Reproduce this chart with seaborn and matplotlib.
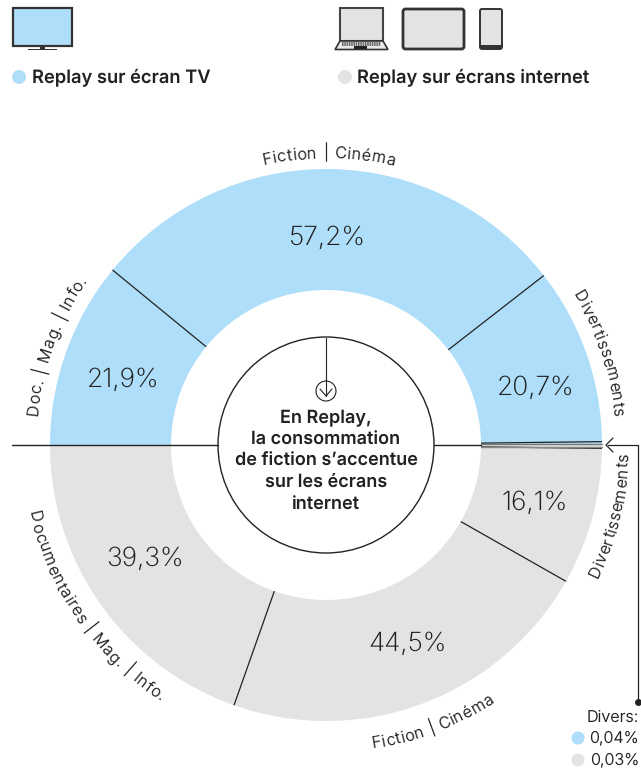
import numpy as np
import seaborn as sns
import matplotlib.pyplot as plt
from matplotlib.patches import Circle, FancyBboxPatch, Polygon, Rectangle
from matplotlib.font_manager import FontProperties
from matplotlib.textpath import TextPath

# Values, %
tv_labels = ["Doc. | Mag. | Info.", "Fiction | Cinéma", "Divertissements", "Divers"]
tv_values = [21.9, 57.2, 20.7, 0.04]
web_labels = ["Documentaires | Mag. | Info.", "Fiction | Cinéma", "Divertissements", "Divers"]
web_values = [39.3, 44.5, 16.1, 0.03]
tv_value_texts = ["21,9%", "57,2%", "20,7%"]
web_value_texts = ["39,3%", "44,5%", "16,1%"]
center_lines = ["En Replay,", "la consommation", "de fiction s’accentue", "sur les écrans", "internet"]

BLUE = "#AEDEF9"
GREY = "#E3E3E3"
DARK = "#222222"
FONT = "Inter"

sns.set_theme(style="white")
plt.rcParams["font.family"] = [FONT, "DejaVu Sans"]
plt.rcParams["text.hinting"] = "no_hinting"

fig = plt.figure(figsize=(6.41, 7.68), dpi=100)
ax = fig.add_axes([0, 0, 1, 1])

CX, CY = 326, 768 - 445
R_OUT, R_IN, R_CIRCLE = 276, 155, 108
SLIVER = 0.7  # degrees, Divers is far too small to show at true scale


def Y(py):
    return 768 - py


def half_sizes(values):
    # fraction of full circle, last slice kept visible
    big = np.array(values[:-1])
    sizes = big / big.sum() * (180 - SLIVER) / 360
    return list(sizes) + [SLIVER / 360]


def donut(values, color, start, clockwise):
    sizes = half_sizes(values)
    ax.pie(sizes, colors=[color] * len(sizes), startangle=start, counterclock=not clockwise, normalize=False,
           center=(CX, CY), radius=R_OUT, wedgeprops={"width": R_OUT - R_IN, "linewidth": 0})
    # separators between slices
    sign = -1 if clockwise else 1
    for edge in np.cumsum(sizes)[:-1]:
        a = np.deg2rad(start + sign * edge * 360)
        ax.plot([CX + R_IN * np.cos(a), CX + R_OUT * np.cos(a)],
                [CY + R_IN * np.sin(a), CY + R_OUT * np.sin(a)], color=DARK, lw=0.9, solid_capstyle="butt")


def curved_text(s, r, mid_deg, clockwise, size=11.6, spacing=0.7):
    # one character at a time along a circle around the chart centre
    prop = FontProperties(family=FONT, size=size, weight=300)

    def w(t):
        # width in pixels, taken from the glyph outlines
        full = TextPath((0, 0), "." + t + ".", size=size, prop=prop).get_extents().width
        dots = TextPath((0, 0), "..", size=size, prop=prop).get_extents().width
        return (full - dots) * 100 / 72

    total = w(s) + spacing * (len(s) - 1)
    sign = -1 if clockwise else 1
    for i, ch in enumerate(s):
        pos = (w(s[:i]) + w(s[:i + 1])) / 2 + spacing * i - total / 2
        deg = mid_deg + sign * np.rad2deg(pos / r)
        a = np.deg2rad(deg)
        rot = deg - 90 if clockwise else deg + 90
        ax.text(CX + r * np.cos(a), CY + r * np.sin(a), ch, fontproperties=prop, color=DARK, ha="center",
                va="baseline", rotation=rot, rotation_mode="anchor")


donut(tv_values, BLUE, 180, True)
donut(web_values, GREY, 180, False)

# Centre circle and arrow
ax.add_patch(Circle((CX, CY), R_CIRCLE, fc="white", ec=DARK, lw=1))
ax.plot([CX, CX], [Y(338), Y(396)], color=DARK, lw=0.8)
ax.add_patch(Circle((CX, Y(391)), 10, fc="none", ec=DARK, lw=0.8))
ax.plot([CX - 6, CX, CX + 6], [Y(389), Y(396), Y(389)], color=DARK, lw=0.8)
for i, line in enumerate(center_lines):
    ax.text(CX, Y(418.5 + i * 21.5), line, ha="center", va="center", fontsize=13, fontweight=600, color=DARK)

# Horizontal axis line and leader for Divers
ax.plot([12, CX - R_CIRCLE], [CY, CY], color=DARK, lw=1)
ax.plot([CX + R_CIRCLE, CX + R_IN], [CY, CY], color=DARK, lw=1)
ax.plot([CX + R_IN, CX + R_OUT], [Y(444.3), Y(444.3)], color="#777777", lw=1)
ax.plot([CX + R_IN, CX + R_OUT], [Y(446.8), Y(446.8)], color="#888888", lw=1)
ax.plot([608, 638, 638], [Y(445), Y(445), Y(702)], color=DARK, lw=0.9)
ax.plot([613, 606, 613], [Y(438), Y(445), Y(452)], color=DARK, lw=0.9)
ax.plot([638], [Y(702)], "o", color=DARK, ms=4)

# Values inside the ring
tv_pos = [(123, 380), (327, 238), (536, 388)]
web_pos = [(145, 559), (408, 644), (535, 503)]
for txt, (x, y) in zip(tv_value_texts + web_value_texts, tv_pos + web_pos):
    ax.text(x, Y(y), txt, ha="center", va="center", fontsize=19, fontweight=200, color=DARK)

# Labels around the ring
curved_text(tv_labels[1], 287, 89.5, True)
curved_text(tv_labels[2], 289, 18.6, True)
curved_text(tv_labels[0], 290, 159.8, True)
curved_text(web_labels[2], 303, -14, False)
curved_text(web_labels[1], 307, -69, False)
curved_text(web_labels[0], 305, 215, False, spacing=0.9)

# Divers note
ax.text(639, Y(717), "Divers:", ha="right", va="center", fontsize=11.6, fontweight=300, color=DARK)
ax.text(639, Y(738), "0,04%", ha="right", va="center", fontsize=11.6, fontweight=300, color=DARK)
ax.text(639, Y(760), "0,03%", ha="right", va="center", fontsize=11.6, fontweight=300, color=DARK)
ax.add_patch(Circle((578, Y(738)), 6.5, fc=BLUE, ec="none"))
ax.add_patch(Circle((578, Y(760)), 6.5, fc=GREY, ec="none"))

# Legend
ax.add_patch(Circle((19, Y(77)), 7, fc=BLUE, ec="none"))
ax.add_patch(Circle((345, Y(77)), 7, fc=GREY, ec="none"))
ax.text(32, Y(77), "Replay sur écran TV", ha="left", va="center", fontsize=13.2, fontweight=600, color=DARK)
ax.text(357, Y(77), "Replay sur écrans internet", ha="left", va="center", fontsize=13.2, fontweight=600, color=DARK)

# Device icons
ax.add_patch(Rectangle((13, Y(46)), 59, 38, fc=BLUE, ec="#333333", lw=1.6))
ax.add_patch(Rectangle((40, Y(49)), 5, 3, fc="#333333", ec="none"))
ax.add_patch(Rectangle((28, Y(50)), 29, 1.4, fc="#333333", ec="none"))
ax.add_patch(Rectangle((340, Y(41)), 43, 33, fc=GREY, ec="#444444", lw=1.5))
ax.add_patch(Polygon([(340, Y(41)), (383, Y(41)), (388, Y(49.5)), (335, Y(49.5))], fc="#E8E8E8", ec="#333333", lw=1.2))
for row in (43, 44.8):
    ax.plot([342, 381], [Y(row), Y(row)], color="#444444", lw=1.1, ls=(0, (1, 0.5)))
ax.add_patch(Rectangle((354, Y(48.5)), 13, 2.2, fc="#222222", ec="none"))
ax.add_patch(FancyBboxPatch((403, Y(49)), 61, 40, boxstyle="round,pad=0,rounding_size=2.5", fc=GREY, ec="#333333", lw=2))
ax.add_patch(FancyBboxPatch((480, Y(49)), 22, 40, boxstyle="round,pad=0,rounding_size=2", fc=GREY, ec="#333333", lw=1.4))
ax.add_patch(Rectangle((480, Y(49)), 22, 4, fc="#333333", ec="none"))

ax.set_xlim(0, 641)
ax.set_ylim(0, 768)
ax.set_aspect("equal")
ax.axis("off")

fig.savefig("out.png", dpi=100)
plt.close(fig)
